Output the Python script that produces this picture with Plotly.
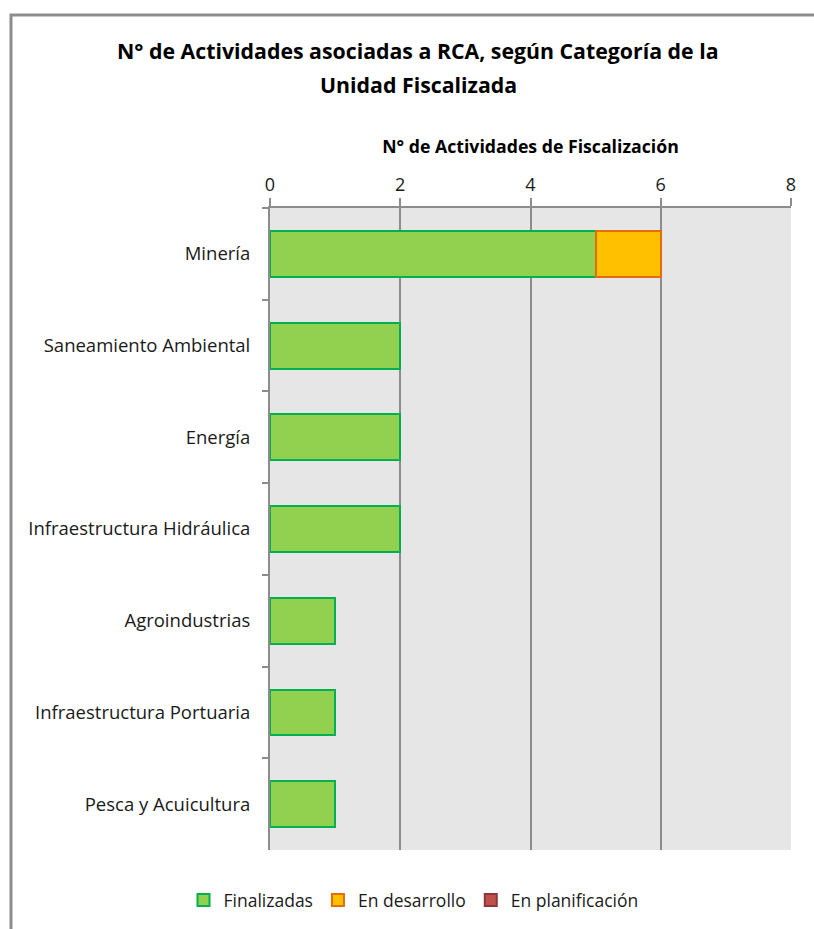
import plotly.graph_objects as go

categories = ["Minería", "Saneamiento Ambiental", "Energía", "Infraestructura Hidráulica",
              "Agroindustrias", "Infraestructura Portuaria", "Pesca y Acuicultura"]
finalizadas = [5, 2, 2, 2, 1, 1, 1]
en_desarrollo = [1, 0, 0, 0, 0, 0, 0]
en_planificacion = [0, 0, 0, 0, 0, 0, 0]
x_ticks = [0, 2, 4, 6, 8]
title_lines = ["N° de Actividades asociadas a RCA, según Categoría de la", "Unidad Fiscalizada"]

FONT = "Open Sans"
TXT = "#1a1a1a"


def nz(vals):
    # zero-length segments are not drawn (avoids stray outline slivers)
    return [v if v else None for v in vals]


fig = go.Figure()
fig.add_trace(go.Bar(name="Finalizadas", y=categories, x=nz(finalizadas), orientation="h",
                     marker=dict(color="#92D050", line=dict(color="#00B050", width=2))))
fig.add_trace(go.Bar(name="En desarrollo", y=categories, x=nz(en_desarrollo), orientation="h",
                     marker=dict(color="#FFC000", line=dict(color="#E46C0A", width=2))))
fig.add_trace(go.Bar(name="En planificación", y=categories, x=nz(en_planificacion), orientation="h",
                     marker=dict(color="#C0504D", line=dict(color="#8C3836", width=2))))

fig.update_layout(
    width=814, height=929,
    barmode="stack", bargap=0.5,
    paper_bgcolor="white", plot_bgcolor="#E6E6E6",
    margin=dict(l=270, r=23, t=208, b=79),
    font=dict(family=FONT, size=17, color=TXT),
    legend=dict(orientation="h", xref="container", yref="container",
                x=0.508, y=1 - 900 / 929, xanchor="center", yanchor="middle",
                font=dict(family=FONT, size=17.5, color=TXT), itemwidth=30,
                traceorder="normal"),
    showlegend=True,
    hovermode=False,
)

for i, line in enumerate(title_lines):
    fig.add_annotation(text="<b>" + line + "</b>", xref="paper", yref="paper",
                       x=(418 - 270) / 521, y=(850 - (50 + 35 * i)) / 642,
                       xanchor="center", yanchor="middle", showarrow=False,
                       font=dict(family=FONT, size=21.3, color="#000000"))

fig.update_xaxes(side="top", range=[0, 8], tickvals=x_ticks, ticktext=[str(v) for v in x_ticks],
                 showgrid=True, gridcolor="#8C8C8C", gridwidth=2,
                 showline=True, linecolor="#8C8C8C", linewidth=2,
                 ticks="outside", ticklen=8, tickwidth=2, tickcolor="#8C8C8C",
                 zeroline=False,
                 title=dict(text="<b>N° de Actividades de Fiscalización</b>",
                            font=dict(family=FONT, size=17.7, color="#000000"), standoff=14),
                 tickfont=dict(family=FONT, size=18, color=TXT))
fig.update_yaxes(autorange="reversed", showline=True, linecolor="#8C8C8C", linewidth=2,
                 ticks="outside", tickson="boundaries", ticklen=6, tickwidth=2, tickcolor="#8C8C8C",
                 showgrid=False, tickfont=dict(family=FONT, size=18.5, color=TXT),
                 ticklabelstandoff=14)

# outer chart frame
fig.add_shape(type="rect", xref="paper", yref="paper",
              x0=(11 - 270) / 521, x1=(830 - 270) / 521,
              y0=(850 - 945) / 642, y1=(850 - 15) / 642,
              line=dict(color="#8C8C8C", width=3), fillcolor="rgba(0,0,0,0)", layer="below")

fig.write_html("out.html", config={"displayModeBar": False},
               post_script="document.body.style.margin='0';document.body.style.overflow='hidden';")
